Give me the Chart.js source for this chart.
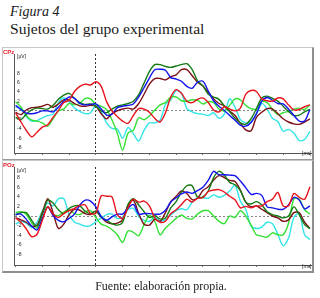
<!DOCTYPE html>
<html>
<head>
<meta charset="utf-8">
<script src="https://cdn.jsdelivr.net/npm/chart.js@4.4.0/dist/chart.umd.min.js"></script>
<style>
  html, body { margin: 0; padding: 0; background: #fff; }
  body { width: 320px; height: 298px; position: relative; overflow: hidden; }
  .txt { position: absolute; white-space: nowrap; }
  .serif { font-family: "Liberation Serif", "DejaVu Serif", serif; color: #1a1a1a; }
  .small { font-family: "Liberation Sans", Arial, sans-serif; font-size: 5px; color: #222; line-height: 6px; }
  .chan { font-family: "Liberation Sans", Arial, sans-serif; font-size: 6px; font-weight: bold; color: #e0202a; line-height: 6px; z-index: 2; }
  .panel { position: absolute; left: 2px; width: 309px; border: 1px solid #c6c6c6; border-right: 2px solid #8e8e8e; }
  .panel canvas { display: block; }
</style>
</head>
<body>
<div class="txt serif" style="left:10px;top:4px;font-size:14px;font-style:italic;">Figura 4</div>
<div class="txt serif" style="left:10px;top:20px;font-size:15.6px;">Sujetos del grupo experimental</div>

<div class="panel" style="top:47px;height:111px;border-bottom:1px solid #9a9a9a;"><canvas id="cpz" width="309" height="111"></canvas></div>
<div class="panel" style="top:160px;height:110px;border-bottom:2px solid #8e8e8e;"><canvas id="poz" width="309" height="110"></canvas></div>

<div class="txt chan" style="left:3px;top:49px;">CPz</div>
<div class="txt small" style="left:17px;top:53px;">[µV]</div>
<div class="txt small" style="left:302px;top:150px;">[ms]</div>
<div class="txt chan" style="left:3px;top:162px;">POz</div>
<div class="txt small" style="left:17px;top:167px;">[µV]</div>
<div class="txt small" style="left:302px;top:263px;">[ms]</div>

<div class="txt serif" style="left:0;width:322px;text-align:center;top:279px;font-size:12px;">Fuente: elaboración propia.</div>

<script>
// eje de tiempo (ms), cada 20 ms
const times = [];
for (let t = -300; t <= 800; t += 20) times.push(t);

const timeTicks = [-300, -200, -100, 0, 100, 200, 300, 400, 500, 600, 700, 800];
const timeLabels = [-200, 200, 400, 600];
const voltTicks = [-8, -6, -4, -2, 0, 2, 4, 6, 8];

// CPz (µV)
const cpzRed = [-0.5, -2.5, -4.3, -5.7, -4.7, -3.6, -3.1, -1.5, 0, 1.7, 2.2, 4.1, 5.2, 5.7, 5.5, 6.2, 5.2, 1.9, -0.1, -1.3, -2.3, -2.8, -1.1, 0.4, 0.3, -0.4, -1.7, -2.5, -0.5, 2.9, 4.5, 3.7, 2.0, 1.7, 2.4, 2.7, 1.7, 0.1, -0.3, 0.8, 0.3, -0.1, 0.5, 3.5, 4.3, 4.1, 2.5, 2.1, 2.0, 2.7, 2.5, 1.2, 0.1, 0.2, 0.8, 1.2];
const cpzLime = [1.9, 0.7, -1.1, -2.1, -2.3, -2.7, -3.4, -1.8, -0.1, 0.3, 1.5, 1.2, 1.5, 2.6, 2.5, 1.3, 0.9, 0.2, -2.0, -4.9, -8.6, -4.9, -4.3, -1.6, -2.0, -1.2, 0.1, 1.2, 1.7, 2.9, 2.9, 2.1, 2.0, 2.3, 2.2, 1.4, 1.9, 1.7, 0.3, -0.1, 1.1, 2.5, 2.3, 1.1, 0.4, 0.3, 1.9, 1.7, 0.3, -0.9, -0.5, -0.2, 0.3, 0.5, 0.2, 1.2];
const cpzDarkGreen = [-1.5, -2.0, -0.8, 0.1, 0.5, 0.4, 0.3, 1.1, 2.4, 3.3, 3.7, 2.6, 1.7, 1.3, 1.4, 0.9, -0.1, -0.5, 0.3, 0.9, 1.2, 1.5, 2.0, 3.4, 5.9, 8.4, 9.9, 9.9, 9.5, 9.3, 9.6, 9.9, 10.1, 8.8, 6.4, 5.3, 3.5, 2.9, 2.4, 1.0, -0.3, -1.7, -2.7, -3.0, -1.8, 0.4, 2.7, 3.1, 2.6, 2.0, 0.9, -0.2, -1.1, -1.0, -0.3, 0.2];
const cpzBlue = [1.1, 0.2, -0.6, -0.7, -0.5, -0.1, -0.1, -0.3, 0.7, 2.0, 2.9, 2.6, 1.5, 1.2, 1.3, 1.4, 0.3, -1.0, -0.8, 0.6, 0.9, 1.1, 1.4, 2.9, 4.9, 7.0, 8.8, 8.9, 8.7, 7.1, 6.8, 6.3, 5.2, 4.8, 6.1, 6.3, 4.2, 2.1, 0.9, 0, -1.1, -2.1, -3.2, -3.4, -2.6, -0.7, 2.0, 2.8, 2.2, 1.5, 1.4, 0.3, -1.1, -2.3, -2.3, 0.2];
const cpzMaroon = [-0.4, -0.9, 0.1, 0.6, 0.7, 0.9, 1.3, 0.7, 1.4, 2.3, 2.2, 1.5, 1.0, 0.9, 1.1, 0.9, -0.7, -1.8, -0.7, -0.1, 0.3, 0.5, 0.3, 1.5, 3.5, 5.7, 6.9, 6.9, 6.6, 7.3, 7.7, 8.8, 8.8, 7.5, 6.1, 5.3, 3.9, 2.5, 1.5, 1.0, -0.1, -1.1, -2.8, -4.2, -4.4, -1.5, -0.4, 0.4, 0.3, -0.7, -1.8, -2.5, -2.9, -3.0, -2.5, -1.8];
const cpzCyan = [0.8, 0.3, -1.3, -2.3, -2.2, -1.6, -1.1, -0.8, 1.7, 2.7, 1.9, 0.5, -0.2, -0.7, -0.5, 1.0, -0.3, -2.7, -3.9, -4.0, -6.0, -3.7, -5.0, -6.6, -4.3, -2.7, -2.7, -2.1, 1.3, 2.3, 4.3, 3.7, 0.4, -0.3, -0.7, -0.8, -1.1, -0.5, -1.7, -0.8, 2.5, 0.7, -2.0, -2.7, -2.5, -0.8, 1.5, 0.3, -1.7, -2.4, -4.5, -4.1, -4.9, -6.5, -6.3, -4.5];

// POz (µV)
const pozRed = [-0.4, -1.3, -2.7, -4.3, -3.8, -0.9, 1.9, 0.4, -0.3, 0.5, 1.1, 1.6, 2.2, 2.3, 0.5, 0.6, 4.2, 4.1, 4.0, 0.3, -0.5, 1.7, 3.5, 2.9, 3.1, 2.1, -0.4, -1.3, -1.1, 0.5, 1.3, 2.4, 3.5, 2.9, 3.7, 3.8, 5.1, 5.4, 5.5, 5.0, 4.1, 3.4, 1.7, 2.0, 1.7, 2.1, 2.1, 3.0, 3.5, 4.9, 2.1, 2.1, 4.7, 3.9, 3.5, 6.1];
const pozLime = [0.7, 0.9, 0.3, -1.4, -2.5, 0.9, 1.9, 0.4, 0.1, 0.8, 1.3, 0.5, 0.3, 0.9, 1.1, -0.3, -1.7, -2.1, -2.8, -3.9, -5.5, -3.1, -3.4, -4.1, -1.8, 0.1, -1.1, -3.9, -2.5, -1.5, -0.5, 0.2, -0.5, -0.6, 0.4, 1.1, 1.1, 0, -1.1, -1.6, 0, -0.3, 1.1, 0, -1.9, -3.9, -4.2, -4.4, -3.5, -3.9, -3.9, -1.5, 3.6, 3.5, 1.3, 0.4];
const pozDarkGreen = [0.2, 0.7, 0.7, -0.9, -2.1, 0.3, 3.3, 2.7, 1.3, 0.5, 1.6, 2.1, 2.1, 1.0, 0.5, 1.0, -0.2, -0.9, -1.6, -1.9, -1.3, 2.4, 3.6, 2.3, 0.9, -0.3, 0.1, -0.6, -0.4, 1.7, 3.0, 5.0, 6.3, 6.3, 3.9, 4.0, 5.2, 8.0, 9.3, 8.5, 7.0, 6.5, 5.3, 2.9, 2.5, 3.0, 2.3, 0.9, 0.3, 0, -0.4, 0, 1.9, 0.3, -1.8, -2.6];
const pozBlue = [0.3, 0.4, -0.7, -2.1, -2.9, -0.5, 1.9, 0.1, -0.9, -1.2, -0.5, 0.4, 2.3, 3.3, 3.1, 1.9, -0.1, -0.9, -0.2, 0.4, 0.4, 1.6, 2.4, 0.4, 0.5, 0.5, 0.4, 0.4, 1.2, 2.9, 3.8, 4.6, 5.0, 4.7, 5.3, 6.0, 7.4, 9.3, 8.6, 8.6, 8.5, 8.4, 7.3, 5.9, 4.5, 4.7, 4.3, 1.9, 1.7, 1.4, 1.4, 2.3, 3.9, 3.3, 1.5, 2.1];
const pozMaroon = [-0.4, -0.8, -1.3, -2.1, -1.9, 0.7, 3.6, 0.7, -2.6, -1.7, 0.3, 1.4, 1.2, 0.5, 0.3, 1.0, -0.2, -1.3, -1.6, -1.5, -0.8, 2.2, 3.3, 0.5, -1.7, -1.9, -0.7, -1.1, 0.7, 3.0, 4.1, 5.2, 4.7, 3.4, 3.7, 5.3, 6.1, 7.5, 8.4, 8.0, 7.4, 7.2, 5.4, 2.9, 1.9, 2.1, 1.4, 0.7, 0, -0.4, -1.1, -0.8, 0.7, 0.7, -1.3, -2.6];
const pozCyan = [-1.7, -1.1, -1.5, -2.4, -1.3, 1.1, 2.7, 2.1, 3.6, 3.6, 0.3, -1.3, -1.7, -2.1, -2.0, -1.2, -0.4, 0.3, 0.4, -0.5, -0.2, 1.3, 1.6, -0.1, -0.9, -1.1, -0.3, -1.0, -0.8, 0.2, 1.1, 1.5, 1.3, 2.9, 3.8, 3.8, 3.7, 4.4, 3.9, 4.3, 5.2, 6.4, 3.1, 1.4, -2.1, -2.6, -2.3, -1.3, -1.6, -3.8, -6.2, -4.6, -0.3, 0.5, -3.9, -4.9];

const colores = ['#e8121c', '#1414ee', '#157a15', '#7c1016', '#33e033', '#33e4e8'];

function toPoints(vals) {
  return vals.map((v, i) => ({ x: times[i], y: v }));
}

function makePanel(id, series, yMin, yMax, padTop, axisH, labelPad) {
  const ctx = document.getElementById(id).getContext('2d');
  return new Chart(ctx, {
    type: 'line',
    data: {
      datasets: series.map((s, i) => ({
        data: toPoints(s),
        borderColor: colores[i],
        borderWidth: 1.4,
        pointRadius: 0,
        tension: 0.3,
        fill: false
      }))
    },
    options: {
      responsive: false,
      animation: false,
      events: [],
      layout: { padding: { top: padTop, right: 1, left: 0, bottom: 0 } },
      plugins: { legend: { display: false }, tooltip: { enabled: false } },
      scales: {
        x: {
          type: 'linear',
          min: -306,
          max: 804,
          afterFit: s => { s.height = axisH; },
          afterBuildTicks: s => { s.ticks = timeTicks.map(v => ({ value: v })); },
          grid: {
            color: c => (c.tick && c.tick.value === 0) ? '#333' : 'rgba(0,0,0,0)',
            lineWidth: 1,
            drawTicks: true,
            tickLength: 2,
            tickColor: '#777'
          },
          border: { display: true, color: '#555', width: 1, dash: [2, 2] },
          ticks: {
            autoSkip: false,
            maxRotation: 0,
            padding: labelPad,
            color: '#222',
            font: { family: 'Liberation Sans', size: 5 },
            callback: v => timeLabels.includes(v) ? String(v) : ''
          }
        },
        y: {
          min: yMin,
          max: yMax,
          afterFit: s => { s.width = 11; },
          afterBuildTicks: s => { s.ticks = voltTicks.map(v => ({ value: v })); },
          grid: {
            color: c => (c.tick && c.tick.value === 0) ? '#888' : 'rgba(0,0,0,0)',
            lineWidth: 1,
            drawTicks: false
          },
          border: { display: true, color: '#555', width: 1, dash: [2, 2] },
          ticks: {
            mirror: true,
            padding: 3,
            color: '#222',
            font: { family: 'Liberation Sans', size: 5 },
            callback: v => v === 0 ? '' : String(v)
          }
        }
      }
    }
  });
}

makePanel('cpz', [cpzRed, cpzBlue, cpzDarkGreen, cpzMaroon, cpzLime, cpzCyan], -9.2, 12.2, 2, 2, -9);
makePanel('poz', [pozRed, pozBlue, pozDarkGreen, pozMaroon, pozLime, pozCyan], -10.2, 10.2, 5, 3, -7);
</script>
</body>
</html>
